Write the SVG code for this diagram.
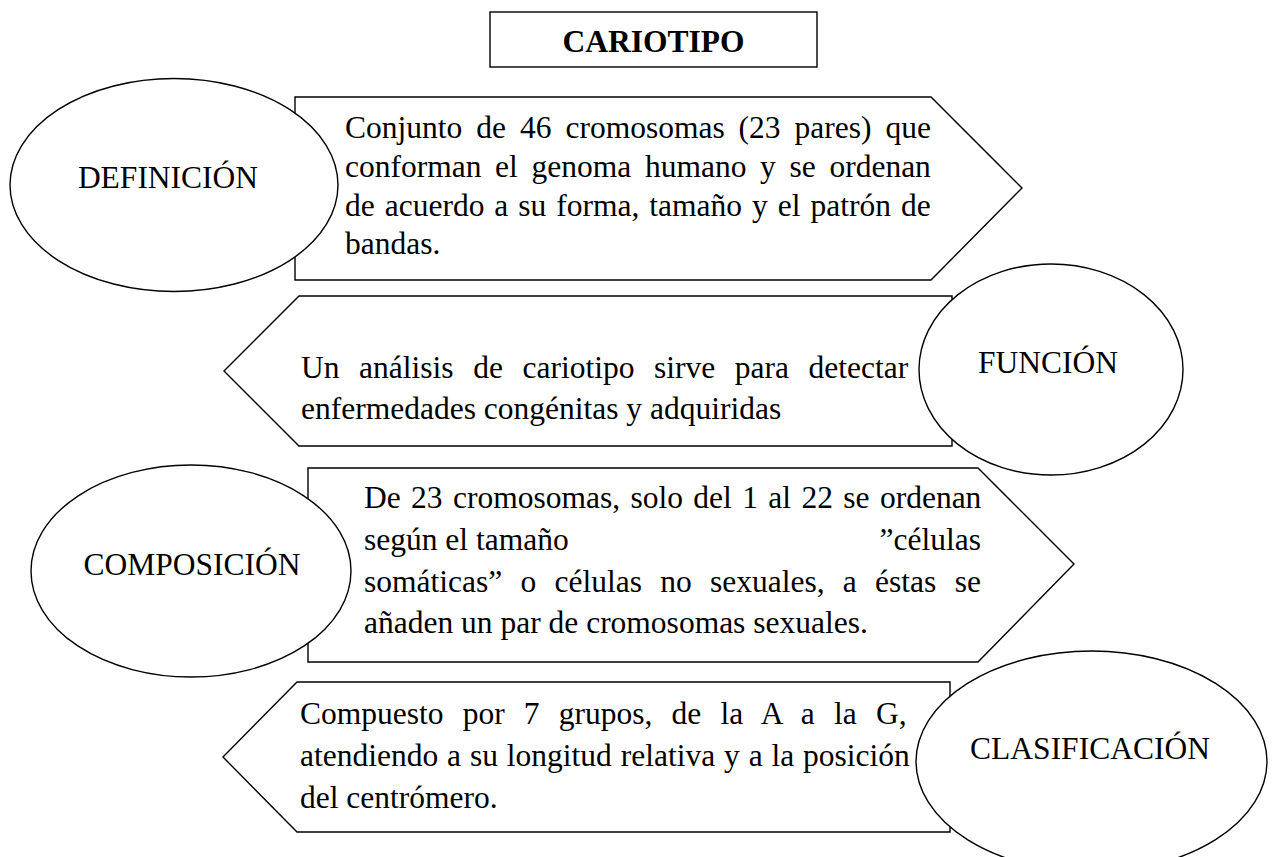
<svg xmlns="http://www.w3.org/2000/svg" width="1273" height="857" viewBox="0 0 1273 857">
<style>
.shape{fill:#ffffff;stroke:#000000;stroke-width:1.4;stroke-linejoin:miter}
.t{font-family:"Liberation Serif","Times New Roman",serif;font-size:31.5px;fill:#000000}
.lbl{text-anchor:middle}
.title{font-weight:bold;text-anchor:middle}
</style>
<rect width="1273" height="857" fill="#ffffff"/>
<g id="connectors"></g>
<g id="title">
<rect class="shape" x="490" y="12" width="327" height="55"/>
<text class="t title" x="653.5" y="52">CARIOTIPO</text>
</g>
<g id="definicion-texto">
<path class="shape" d="M295,97 L931,97 L1022,188 L931,280 L295,280 Z"/>
<text class="t" x="345" y="138" style="word-spacing:6.1px">Conjunto de 46 cromosomas (23 pares) que</text>
<text class="t" x="345" y="177" style="word-spacing:5.8px">conforman el genoma humano y se ordenan</text>
<text class="t" x="345" y="216" style="word-spacing:2.1px">de acuerdo a su forma, tamaño y el patrón de</text>
<text class="t" x="345" y="254">bandas.</text>
</g>
<g id="definicion">
<ellipse class="shape" cx="174" cy="185" rx="164" ry="106.5"/>
<text class="t lbl" x="168" y="188">DEFINICIÓN</text>
</g>
<g id="funcion-texto">
<path class="shape" d="M224,371 L299,296 L952,296 L952,446 L299,446 Z"/>
<text class="t" x="301" y="378" style="word-spacing:11.7px">Un análisis de cariotipo sirve para detectar</text>
<text class="t" x="301" y="419">enfermedades congénitas y adquiridas</text>
</g>
<g id="funcion">
<ellipse class="shape" cx="1051" cy="369.5" rx="132" ry="105.5"/>
<text class="t lbl" x="1048" y="373">FUNCIÓN</text>
</g>
<g id="composicion-texto">
<path class="shape" d="M308,468 L978,468 L1074,564 L978,662 L308,662 Z"/>
<text class="t" x="364" y="508" style="word-spacing:2.5px">De 23 cromosomas, solo del 1 al 22 se ordenan</text>
<text class="t" x="364" y="550">según el tamaño</text>
<text class="t" x="981" y="550" text-anchor="end">”células</text>
<text class="t" x="364" y="592" style="word-spacing:10.4px">somáticas” o células no sexuales, a éstas se</text>
<text class="t" x="364" y="633">añaden un par de cromosomas sexuales.</text>
</g>
<g id="composicion">
<ellipse class="shape" cx="191" cy="571" rx="160" ry="106"/>
<text class="t lbl" x="192" y="575">COMPOSICIÓN</text>
</g>
<g id="clasificacion-texto">
<path class="shape" d="M223,757 L297,682 L950,682 L950,832 L297,832 Z"/>
<text class="t" x="300" y="724" style="word-spacing:11.3px">Compuesto por 7 grupos, de la A a la G,</text>
<text class="t" x="300" y="766" style="word-spacing:1px">atendiendo a su longitud relativa y a la posición</text>
<text class="t" x="300" y="808">del centrómero.</text>
</g>
<g id="clasificacion">
<ellipse class="shape" cx="1091.5" cy="761.5" rx="175.5" ry="110.5"/>
<text class="t lbl" x="1090" y="759">CLASIFICACIÓN</text>
</g>
</svg>
